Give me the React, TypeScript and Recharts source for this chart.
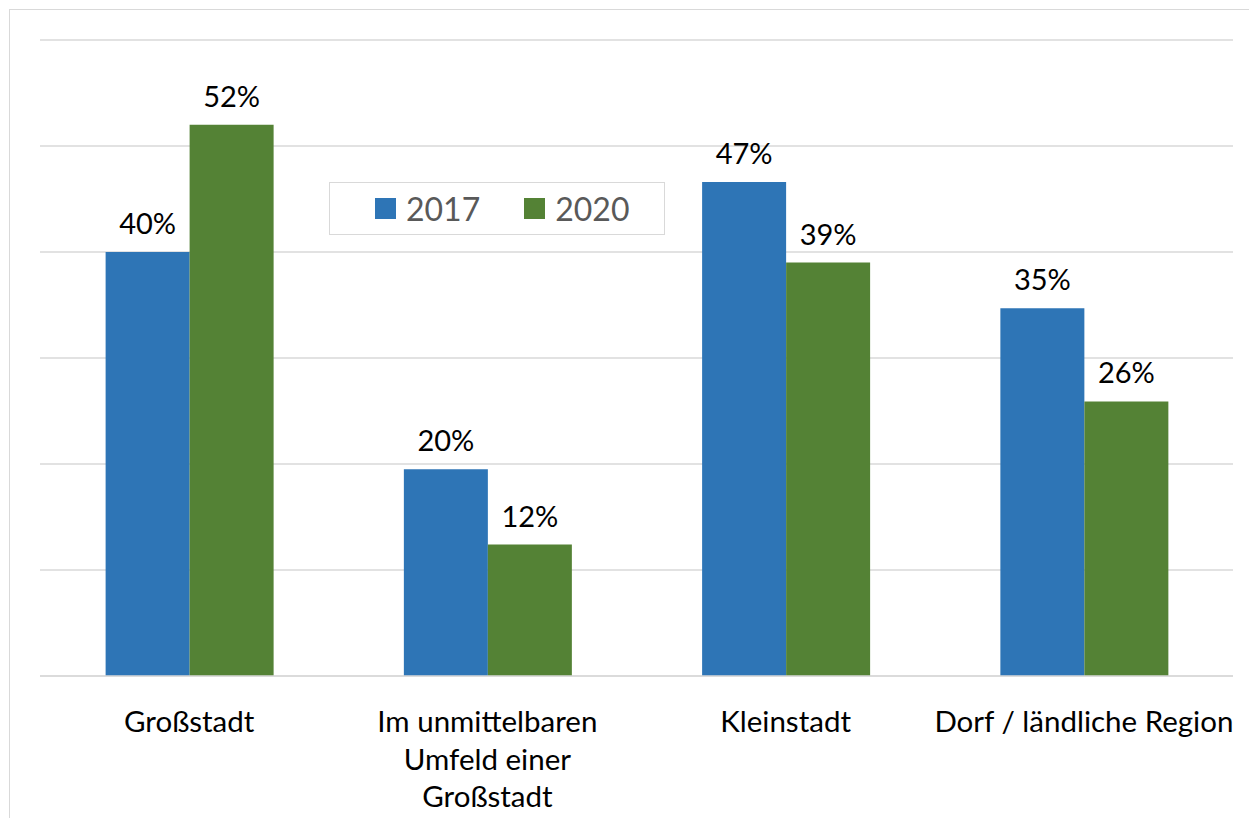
import { BarChart, Bar, XAxis, YAxis, CartesianGrid, LabelList } from 'recharts'

const CATEGORY_LINES = [
  ['Großstadt'],
  ['Im unmittelbaren', 'Umfeld einer', 'Großstadt'],
  ['Kleinstadt'],
  ['Dorf / ländliche Region'],
]
const CATEGORIES = CATEGORY_LINES.map(l => l.join(' '))
const SERIES = ['2017', '2020']
const VALUES_2017 = [0.40, 0.195, 0.466, 0.347]
const VALUES_2020 = [0.52, 0.124, 0.39, 0.259]
const Y_TICKS = [0, 0.1, 0.2, 0.3, 0.4, 0.5, 0.6]

const COLORS = ['#2E75B6', '#548235']
const FONT = 'Lato, "Open Sans", sans-serif'

const data = CATEGORIES.map((name, i) => ({
  name,
  '2017': VALUES_2017[i],
  '2020': VALUES_2020[i],
}))

const pct = (v: any) => `${Math.round(Number(v) * 100)}%`

const CategoryTick = ({ x, y, payload }: any) => {
  const idx = CATEGORIES.indexOf(payload.value)
  const lines = CATEGORY_LINES[idx] ?? [payload.value]
  return (
    <text x={x} y={y + 48} textAnchor="middle" fill="#000" fontSize={29.5} fontFamily={FONT}>
      {lines.map((ln, i) => (
        <tspan key={i} x={x} dy={i === 0 ? 0 : 37.5}>{ln}</tspan>
      ))}
    </text>
  )
}

// legend drawn as an overlay so it doesn't take space from the plot
const LegendBox = () => (
  <div style={{
    position: 'absolute', left: 319, top: 172,
    width: 336, height: 53, border: '1px solid #d9d9d9', boxSizing: 'border-box',
    display: 'flex', alignItems: 'center', background: '#fff',
    fontFamily: FONT, fontSize: 32, color: '#595959',
  }}>
    {SERIES.map((s, i) => (
      <div key={s} style={{ display: 'flex', alignItems: 'center', marginLeft: i === 0 ? 45 : 44 }}>
        <span style={{ width: 21, height: 21, background: COLORS[i], display: 'inline-block', marginRight: 10 }} />
        <span style={{ lineHeight: '51px' }}>{s}</span>
      </div>
    ))}
  </div>
)

export default function App() {
  return (
    <div style={{ width: 1249, height: 810, overflow: 'hidden' }}>
      <div style={{
        marginLeft: 1, marginTop: 1, width: 1300, height: 900,
        border: '1px solid #d9d9d9', background: '#fff', position: 'relative',
      }}>
        <div style={{ position: 'absolute', left: 0, top: 0 }}>
          <BarChart
            width={1240}
            height={840}
            data={data}
            margin={{ top: 30, right: 17, left: 30, bottom: 0 }}
            barCategoryGap="22%"
            barGap={0}
          >
            <CartesianGrid
              horizontal
              vertical={false}
              horizontalValues={Y_TICKS}
              stroke="#d9d9d9"
              strokeWidth={1.5}
            />
            <XAxis
              dataKey="name"
              height={174}
              interval={0}
              tickLine={false}
              axisLine={{ stroke: '#d9d9d9', strokeWidth: 1.5 }}
              tick={<CategoryTick />}
            />
            <YAxis domain={[0, 0.6]} ticks={Y_TICKS} width={0} hide />
            {SERIES.map((s, i) => (
              <Bar key={s} dataKey={s} fill={COLORS[i]} isAnimationActive={false}>
                <LabelList
                  dataKey={s}
                  position="top"
                  offset={18}
                  formatter={pct}
                  fill="#000"
                  fontSize={29}
                  fontFamily={FONT}
                />
              </Bar>
            ))}
          </BarChart>
        </div>
        <LegendBox />
      </div>
    </div>
  )
}
